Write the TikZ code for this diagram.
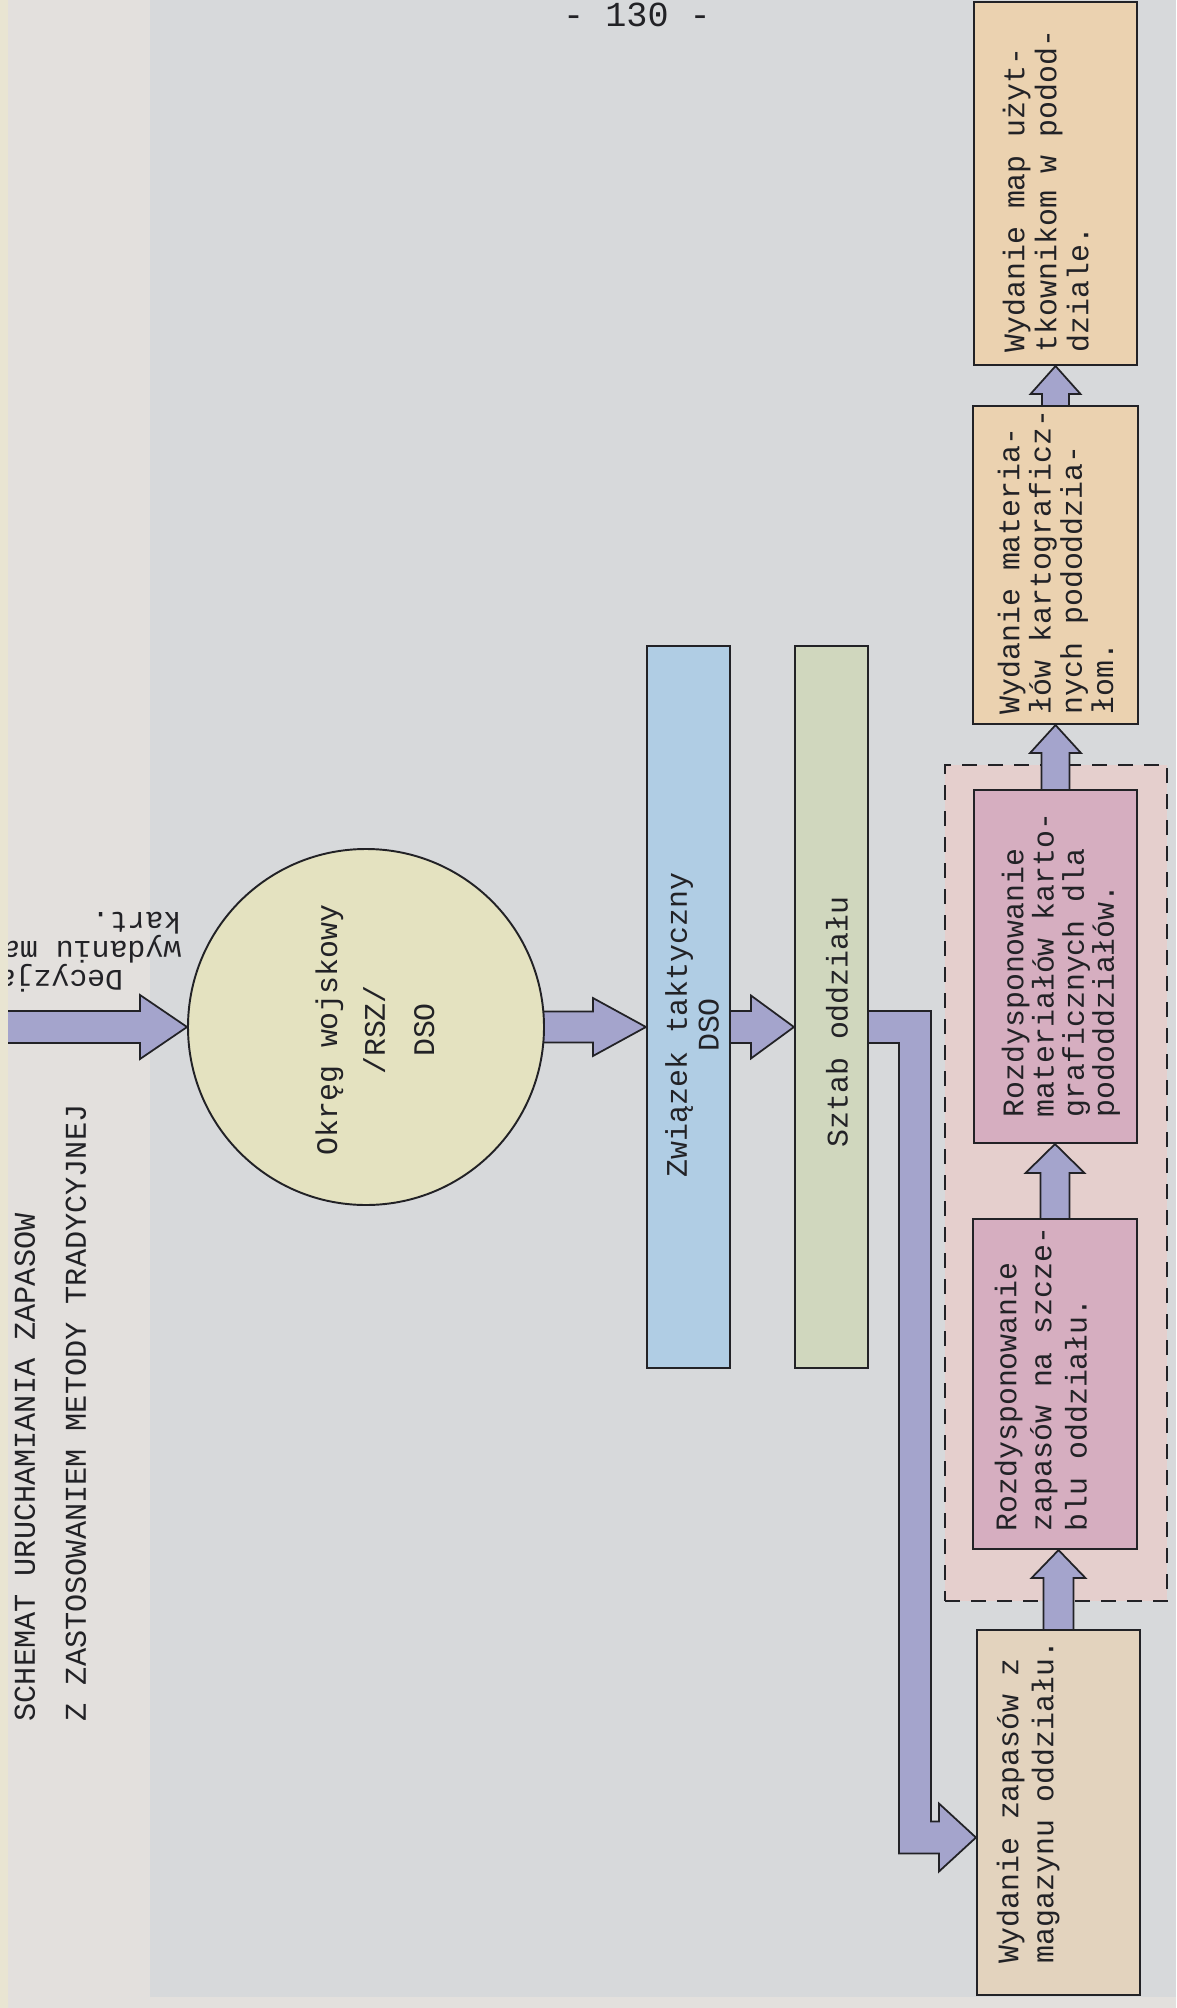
\documentclass[tikz,border=0pt]{standalone}
\usepackage{fontspec}
\usetikzlibrary{calc}
\newfontfamily\tw{Liberation Mono}

\definecolor{paper}{RGB}{215,217,219}
\definecolor{margin}{RGB}{227,224,221}
\definecolor{edge}{RGB}{233,229,210}
\definecolor{ink}{RGB}{34,34,38}
\definecolor{lav}{RGB}{164,164,204}
\definecolor{circc}{RGB}{228,226,192}
\definecolor{zwc}{RGB}{176,205,228}
\definecolor{szc}{RGB}{208,215,190}
\definecolor{rozc}{RGB}{214,174,192}
\definecolor{framec}{RGB}{229,207,205}
\definecolor{wydc}{RGB}{235,210,176}
\definecolor{wydz}{RGB}{227,211,190}

\pgfdeclarelayer{paper}
\pgfdeclarelayer{under}
\pgfsetlayers{paper,under,main}

% rightward block arrow: tail, tip, half shaft, half head, head length
\newcommand{\rarr}[5]{%
  \filldraw[blk] ($(#1)+(0,-#3)$) -- ($(#2)+(-#5,-#3)$) -- ($(#2)+(-#5,-#4)$) -- (#2)
    -- ($(#2)+(-#5,#4)$) -- ($(#2)+(-#5,#3)$) -- ($(#1)+(0,#3)$);}
% upward block arrow: tail, tip, half shaft, half head, head length
\newcommand{\uarr}[5]{%
  \filldraw[blk] ($(#1)+(-#3,0)$) -- ($(#2)+(-#3,#5)$) -- ($(#2)+(-#4,#5)$) -- (#2)
    -- ($(#2)+(#4,#5)$) -- ($(#2)+(#3,#5)$) -- ($(#1)+(#3,0)$);}

\begin{document}
\begin{tikzpicture}[x=0.1mm,y=-0.1mm,
  box/.style={draw=ink, line width=0.6pt, rectangle, inner sep=0pt},
  blk/.style={draw=ink, line width=0.5pt, fill=lav, line join=miter},
  txt/.style={font=\tw\fontsize{8.5}{9.6}\selectfont, text=ink, inner sep=0pt,
              align=left, rotate=90, anchor=north west},
  ctr/.style={font=\tw\fontsize{8.5}{10}\selectfont, text=ink, inner sep=0pt,
              align=center, rotate=90},
]
\useasboundingbox (0,0) rectangle (1176,2008);

% sheet of paper
\begin{pgfonlayer}{paper}
  \fill[paper] (0,0) rectangle (1176,2008);
  \fill[margin] (0,0) rectangle (150,2008);
  \fill[margin] (150,1997) rectangle (1176,2008);
\end{pgfonlayer}

% page number
\node[font=\tw\fontsize{10}{12}\selectfont, text=ink, anchor=base, inner sep=0pt]
  (pg) at (637,27) {- 130 -};

% title
\node[txt, font=\tw\fontsize{8.6}{14.5}\selectfont] (ttl) at (14,1722)
  {SCHEMAT URUCHAMIANIA ZAPASOW\\Z ZASTOSOWANIEM METODY TRADYCYJNEJ};

% decision label (typed upside down)
\node[font=\tw\fontsize{8.5}{8.3}\selectfont, text=ink, inner sep=0pt, align=left,
      rotate=180, anchor=north west] (dec) at (182,993)
  {\hspace*{1.95em}Decyzja\\wydaniu ma\\kart.};

% district
\node[circle, draw=ink, line width=0.55pt, fill=circc, minimum size=35.6mm, inner sep=0pt]
  (circ) at (366,1027) {};
\node[ctr] (circt) at (375,1030) {Okręg wojskowy\\[3.6pt]/RSZ/\\[4pt]DSO};

% tactical unit and staff
\node[box, fill=zwc, minimum width=8.3mm, minimum height=72.2mm] (zw) at (688.5,1007) {};
\node[ctr, font=\tw\fontsize{8.5}{9}\selectfont] (zwt) at (692,1025) {Związek taktyczny\\DSO};
\node[box, fill=szc, minimum width=7.3mm, minimum height=72.2mm] (sz) at (831.5,1007) {};
\node[ctr] (szt) at (837,1022) {Sztab oddziału};

% chain of actions
\node[box, fill=wydc, minimum width=16.3mm, minimum height=36.3mm] (wp) at (1055.5,183.5) {};
\node[txt, font=\tw\fontsize{8.5}{9.1}\selectfont] (wpt) at ($(wp.south west)+(29,-13)$)
  {Wydanie map użyt-\\tkownikom w podod-\\dziale.};

\node[box, fill=wydc, minimum width=16.5mm, minimum height=31.8mm] (wm) at (1055.5,565) {};
\node[txt, font=\tw\fontsize{8.5}{8.9}\selectfont] (wmt) at ($(wm.south west)+(25,-10)$)
  {Wydanie materia-\\łów kartograficz-\\nych pododdzia-\\łom.};

\node[box, fill=rozc, minimum width=16.3mm, minimum height=35.3mm] (rm) at (1055.5,966.5) {};
\node[txt, font=\tw\fontsize{8.5}{8.6}\selectfont] (rmt) at ($(rm.south west)+(28,-26)$)
  {Rozdysponowanie\\materiałów karto-\\graficznych dla\\pododdziałów.};

\node[box, fill=rozc, minimum width=16.4mm, minimum height=33mm] (rz) at (1055,1384) {};
\node[txt, font=\tw\fontsize{8.5}{10}\selectfont] (rzt) at ($(rz.south west)+(22,-18)$)
  {Rozdysponowanie\\zapasów na szcze-\\blu oddziału.};

\node[box, fill=wydz, minimum width=16.3mm, minimum height=36.5mm] (wz) at (1058.5,1812.5) {};
\node[txt, font=\tw\fontsize{8.5}{10}\selectfont] (wzt) at ($(wz.south west)+(20,-32)$)
  {Wydanie zapasów z\\magazynu oddziału.};

\coordinate (pageedge) at (8,0);
\coordinate (ev) at (915,1400);
\coordinate (e0) at (circ.east -| sz.east);
\coordinate (e1) at ($(wz.west)+(0,25)$);

\begin{pgfonlayer}{under}
  % group of distribution steps
  \node[draw=ink, line width=0.55pt, dash pattern=on 1.5mm off 1.1mm, fill=framec,
        minimum width=22.2mm, minimum height=83.6mm, inner sep=0pt] (grp) at (1056,1183) {};

  % flow arrows
  \rarr{circ.west -| pageedge}{circ.west}{16}{32}{47}
  \rarr{$(circ.east)+(-6,0)$}{circ.east -| zw.west}{15.5}{29}{53}
  \rarr{circ.east -| zw.east}{circ.east -| sz.west}{16}{31.5}{43}
  \filldraw[blk] ($(e0)+(0,-16)$) -- ($(ev |- e0)+(16,-16)$) -- ($(ev |- e1)+(16,-16)$)
    -- ($(e1)+(-37,-16)$) -- ($(e1)+(-37,-34)$) -- (e1) -- ($(e1)+(-37,34)$)
    -- ($(e1)+(-37,16)$) -- ($(ev |- e1)+(-16,16)$) -- ($(ev |- e0)+(-16,16)$)
    -- ($(e0)+(0,16)$);
  \uarr{wz.north}{wz.north |- rz.south}{15}{27}{28}
  \uarr{rz.north}{rz.north |- rm.south}{14.5}{29.5}{29}
  \uarr{rm.north}{rm.north |- wm.south}{14}{25.5}{28}
  \uarr{wm.north}{wm.north |- wp.south}{13.5}{25}{28}
\end{pgfonlayer}

% trimmed sheet edge
\fill[edge] (0,0) rectangle (8,2008);
\end{tikzpicture}
\end{document}
